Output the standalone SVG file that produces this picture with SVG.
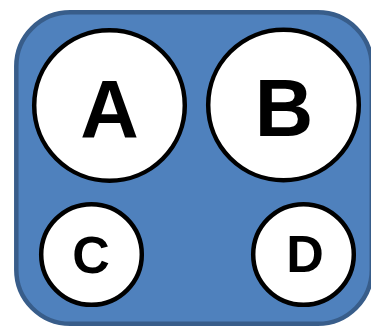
<svg xmlns="http://www.w3.org/2000/svg" width="371" height="327" viewBox="0 0 371 327">
<style>
.n{fill:#fff;stroke:#000;stroke-width:4.5}
.t{font-family:"Liberation Sans",Arial,sans-serif;font-weight:bold;fill:#000;text-anchor:middle}
</style>
<rect x="16.3" y="12.3" width="355.5" height="311.5" rx="54" ry="54" fill="#4f81bd" stroke="#385d8a" stroke-width="4.5"/>
<g id="A"><circle class="n" cx="109.5" cy="105.5" r="75.3"/><text class="t" x="109.5" y="137" font-size="81">A</text></g>
<g id="B"><circle class="n" cx="283.5" cy="105" r="75.3"/><text class="t" x="284" y="136" font-size="81">B</text></g>
<g id="C"><circle class="n" cx="91.5" cy="254.5" r="50.3"/><text class="t" x="91" y="273" font-size="52">C</text></g>
<g id="D"><circle class="n" cx="303.5" cy="254.5" r="50.3"/><text class="t" x="305" y="272" font-size="52">D</text></g>
<g id="connectors"></g>
</svg>
